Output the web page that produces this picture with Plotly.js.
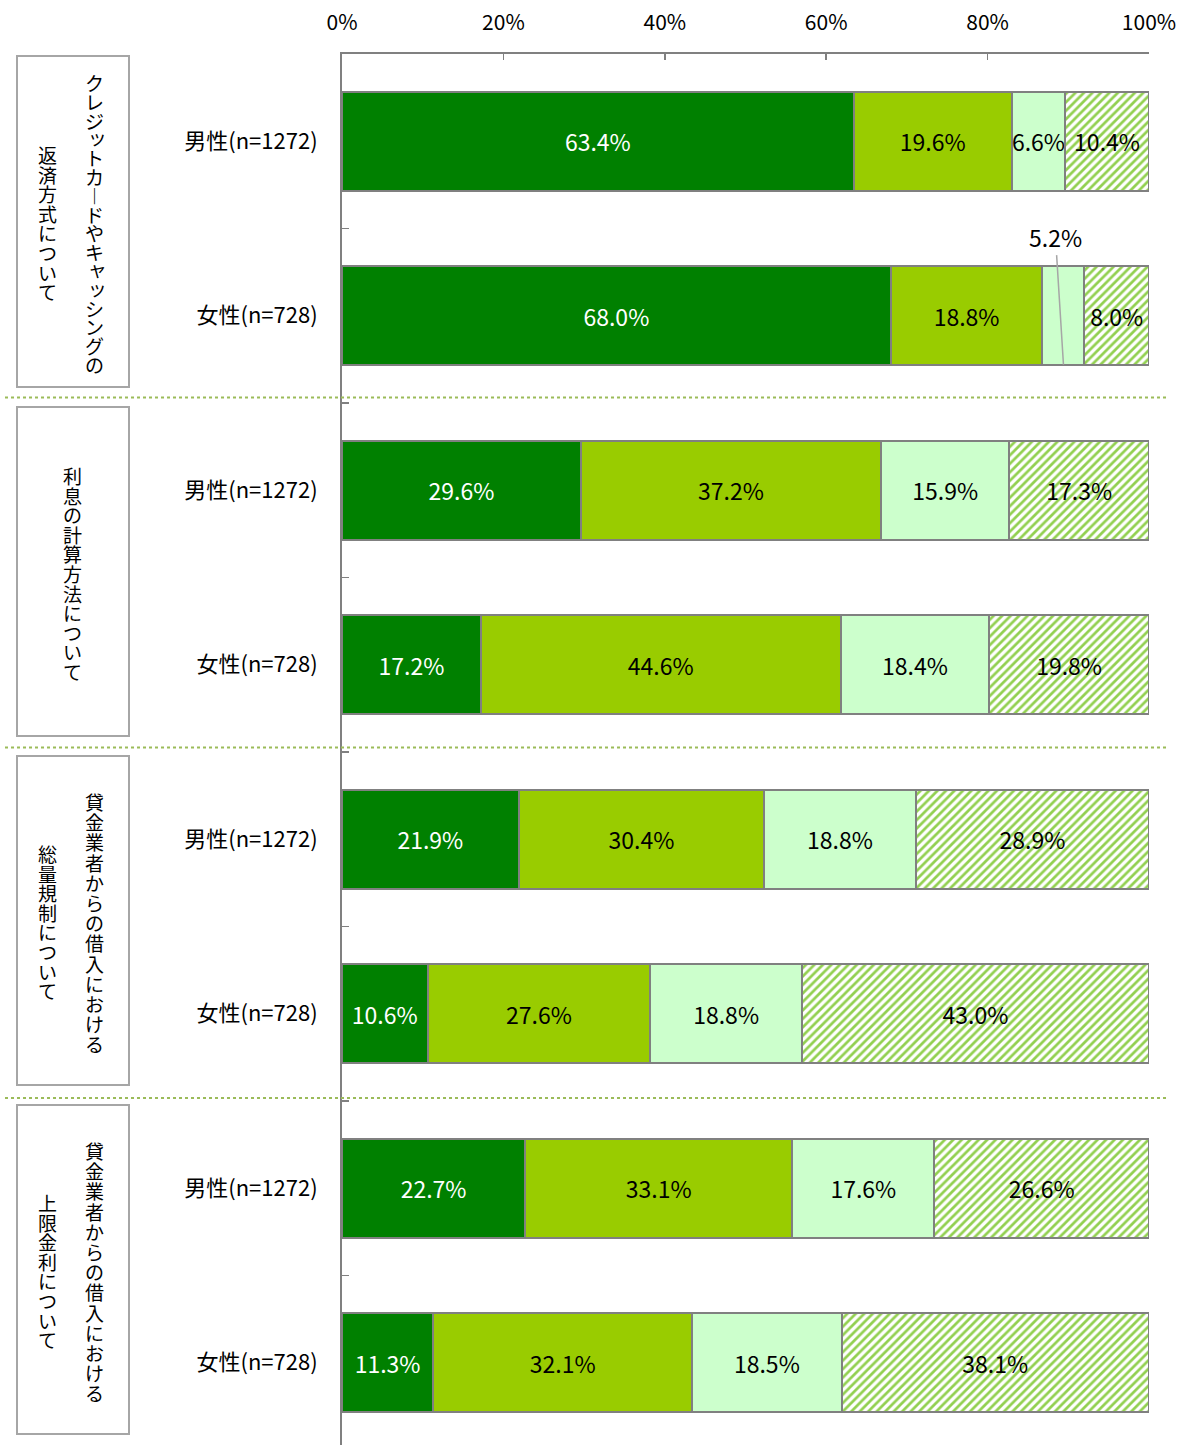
<!DOCTYPE html>
<html><head><meta charset="utf-8">
<script src="https://cdn.plot.ly/plotly-3.0.1.min.js"></script>
<style>html,body{margin:0;padding:0;overflow:hidden;background:#fff}</style>
</head><body><div id="chart" style="width:1185px;height:1450px"></div>
<script>
// ---- data ----
const rowLabels = ["男性(n=1272)","女性(n=728)","男性(n=1272)","女性(n=728)","男性(n=1272)","女性(n=728)","男性(n=1272)","女性(n=728)"];
const s1 = [63.4, 68.0, 29.6, 17.2, 21.9, 10.6, 22.7, 11.3];
const s2 = [19.6, 18.8, 37.2, 44.6, 30.4, 27.6, 33.1, 32.1];
const s3 = [6.6, 5.2, 15.9, 18.4, 18.8, 18.8, 17.6, 18.5];
const s4 = [10.4, 8.0, 17.3, 19.8, 28.9, 43.0, 26.6, 38.1];
const xTicks = [0, 20, 40, 60, 80, 100];
const groupRight = ["クレジットカ︱ドやキャッシングの", "", "貸金業者からの借入における", "貸金業者からの借入における"];
const groupLeft = ["返済方式について", "利息の計算方法について", "総量規制について", "上限金利について"];

// ---- layout helpers (pixel -> paper) ----
const PL = 342, PR = 1149, PT = 54, PB = 1450;
const px = x => (x - PL) / (PR - PL);
const py = y => 1 - (y - PT) / (PB - PT);
const FONT = "Noto Sans CJK JP, Noto Sans, sans-serif";
const rows = rowLabels.map((_, i) => i);
const fmt = v => v.toFixed(1) + "%";
const lineStyle = {color: "#808080", width: 2};
const LABEL_SIZE = 23;

function trace(vals, color, txtColor, extra) {
  return Object.assign({
    type: "bar", orientation: "h", y: rows, x: vals,
    text: vals.map(fmt), textposition: "inside", insidetextanchor: "middle",
    textangle: 0, constraintext: "none",
    textfont: {family: FONT, size: LABEL_SIZE, color: txtColor},
    marker: {color: color, line: lineStyle},
    hoverinfo: "skip", showlegend: false
  }, extra || {});
}

const t3text = s3.map((v, i) => i === 1 ? "" : fmt(v));
const data = [
  trace(s1, "#008000", "#ffffff"),
  trace(s2, "#99CC00", "#000000"),
  Object.assign(trace(s3, "#CCFFCC", "#000000"), {text: t3text}),
  trace(s4, "#ffffff", "#000000", {marker: {color: "#ffffff", line: lineStyle,
    pattern: {shape: "/", fgcolor: "#92D050", bgcolor: "#ffffff", size: 6, solidity: 0.45}}})
];

const shapes = [];
[397.5, 747.5, 1098].forEach(y => shapes.push({type: "line", xref: "paper", yref: "paper",
  x0: px(5), x1: px(1168), y0: py(y), y1: py(y), line: {color: "#9BBB59", width: 2, dash: "dot"}}));

const annotations = [];
const VFS = 19;            // vertical text font size
const colSpacing = [];     // line spacing (em) per vertical annotation, in order
for (let g = 0; g < 4; g++) {
  const top = g === 0 ? 56 : PT + 349 * g + 4;
  const bot = PT + 349 * g + 333;
  shapes.push({type: "rect", xref: "paper", yref: "paper", x0: px(17), x1: px(129), y0: py(top), y1: py(bot),
    line: {color: "#A6A6A6", width: 2}, fillcolor: "rgba(0,0,0,0)"});
  const cy = (top + bot) / 2;
  const cols = groupRight[g] ? [[groupRight[g], 95, g === 0 ? 18.8 : 20.2], [groupLeft[g], 47, 19.6]]
                             : [[groupLeft[g], 72, 19.6]];
  cols.forEach(([txt, cx, step]) => {
    const chars = Array.from(txt);
    const firstCenter = cy - step * (chars.length - 1) / 2;
    annotations.push({xref: "paper", yref: "paper", x: px(cx), y: py(firstCenter - 0.62 * VFS - 1),
      text: chars.join("<br>"), showarrow: false, xanchor: "center", yanchor: "top", align: "center",
      borderpad: 0, font: {family: FONT, size: VFS, color: "#000000"}, name: "vtext"});
    colSpacing.push(step / VFS);
  });
}
annotations.push({xref: "x", yref: "y", x: s1[1] + s2[1] + s3[1] / 2, y: 1.28,
  text: fmt(s3[1]), showarrow: true, arrowhead: 0, arrowwidth: 1.5, arrowcolor: "#A6A6A6",
  ax: -8, ay: -128, standoff: 0, font: {family: FONT, size: LABEL_SIZE, color: "#000000"}});

const layout = {
  width: 1185, height: 1450,
  margin: {l: PL, r: 1185 - PR, t: PT, b: 0},
  paper_bgcolor: "#ffffff", plot_bgcolor: "#ffffff",
  barmode: "stack", bargap: 0.43,
  uniformtext: {mode: "show", minsize: LABEL_SIZE},
  font: {family: FONT, color: "#000000"},
  xaxis: {side: "top", range: [0, 100], tickmode: "array", tickvals: xTicks,
    ticktext: xTicks.map(v => v + "%"), ticks: "inside", ticklen: 6, tickwidth: 1.5, tickcolor: "#808080",
    showline: true, linecolor: "#808080", linewidth: 2, showgrid: false, zeroline: false,
    ticklabelstandoff: 14, tickfont: {family: FONT, size: 21, color: "#000000"}, fixedrange: true},
  yaxis: {range: [7.5, -0.5], tickmode: "array", tickvals: rows, ticktext: rowLabels, ticks: "",
    showline: true, linecolor: "#808080", linewidth: 2, showgrid: false, zeroline: false,
    minor: {tickmode: "array", tickvals: rows.slice(0, 7).map(v => v + 0.5), ticks: "inside",
      ticklen: 7, tickwidth: 1.5, tickcolor: "#808080", showgrid: false},
    ticklabelstandoff: 18, tickfont: {family: FONT, size: 22, color: "#000000"}, fixedrange: true},
  shapes: shapes, annotations: annotations
};

const smallKana = "ッャュョァィゥェォっゃゅょ";
Plotly.newPlot("chart", data, layout, {staticPlot: true, displayModeBar: false}).then(gd => {
  // tighten line spacing of the vertical (tategaki) labels
  const texts = gd.querySelectorAll("text.annotation-text");
  let k = 0;
  texts.forEach(t => {
    const lines = t.querySelectorAll("tspan.line");
    if (lines.length < 2) return;
    const sp = colSpacing[k++] || 1.03;
    lines.forEach((l, i) => {
      const small = smallKana.includes(l.textContent);
      l.setAttribute("dy", (i * sp - (small ? 0.12 : 0)) + "em");
      if (small) l.setAttribute("dx", "0.15em");
    });
  });
});
</script></body></html>
